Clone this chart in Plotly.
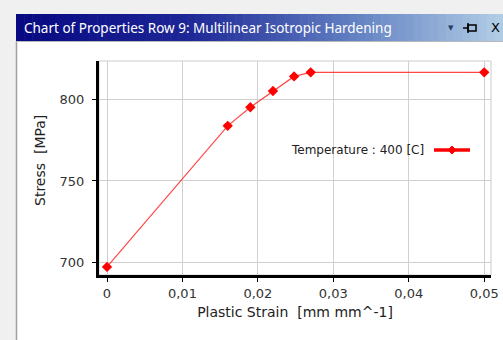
import plotly.graph_objects as go

# ---- data ----
strain = [0.0, 0.0160, 0.0190, 0.0220, 0.0248, 0.0270, 0.0500]
stress = [697.0, 784.0, 795.5, 805.5, 814.5, 817.0, 817.0]
series_name = "Temperature : 400 [C]"
x_ticks = [0.0, 0.01, 0.02, 0.03, 0.04, 0.05]
y_ticks = [700, 750, 800]
window_title = "Chart of Properties Row 9: Multilinear Isotropic Hardening"
x_title = "Plastic Strain\u00a0\u00a0[mm mm^-1]"
y_title = "Stress\u00a0\u00a0[MPa]"

W, H = 503, 340
PL, PR, PT, PB = 99, 491, 61, 275  # plot area pixel bounds


def px(x):
    return (x - PL) / (PR - PL)


def py(y):
    return (PB - y) / (PB - PT)


shapes = []
# light gray window frame
shapes.append(dict(type="rect", xref="paper", yref="paper", x0=px(0), x1=px(16), y0=py(H), y1=py(0),
                   fillcolor="#f0f0f0", line_width=0, layer="below"))
shapes.append(dict(type="rect", xref="paper", yref="paper", x0=px(0), x1=px(W), y0=py(14), y1=py(0),
                   fillcolor="#f0f0f0", line_width=0, layer="below"))
shapes.append(dict(type="line", xref="paper", yref="paper", x0=px(16.5), x1=px(16.5), y0=py(41), y1=py(H),
                   line=dict(color="#a0a0a0", width=1.5)))
shapes.append(dict(type="line", xref="paper", yref="paper", x0=px(16), x1=px(W), y0=py(41.5), y1=py(41.5),
                   line=dict(color="#b8b8b8", width=1)))

# gradient title bar
stops = [(0.0, (8, 8, 130)), (0.35, (28, 38, 150)), (0.7, (100, 130, 195)), (1.0, (178, 206, 230))]


def grad(t):
    for (t0, c0), (t1, c1) in zip(stops[:-1], stops[1:]):
        if t <= t1:
            f = (t - t0) / (t1 - t0)
            return tuple(int(round(a + (b - a) * f)) for a, b in zip(c0, c1))
    return stops[-1][1]


n = 60
x_start, x_end = 16, W
for i in range(n):
    a = x_start + (x_end - x_start) * i / n
    b = x_start + (x_end - x_start) * (i + 1) / n + 0.6
    c = grad((i + 0.5) / n)
    shapes.append(dict(type="rect", xref="paper", yref="paper", x0=px(a), x1=px(b), y0=py(41), y1=py(14),
                       fillcolor="rgb(%d,%d,%d)" % c, line_width=0, layer="below"))

# pin icon in title bar
shapes.append(dict(type="line", xref="paper", yref="paper", x0=px(463), x1=px(468), y0=py(28), y1=py(28),
                   line=dict(color="black", width=1.5)))
shapes.append(dict(type="rect", xref="paper", yref="paper", x0=px(468), x1=px(476), y0=py(31), y1=py(25),
                   line=dict(color="black", width=1.5), fillcolor="rgba(0,0,0,0)"))
shapes.append(dict(type="line", xref="paper", yref="paper", x0=px(468), x1=px(468), y0=py(33), y1=py(23),
                   line=dict(color="black", width=1.5)))

# plot frame (top/right gray)
shapes.append(dict(type="rect", xref="paper", yref="paper", x0=0, x1=1, y0=0, y1=1,
                   line=dict(color="#cccccc", width=1), layer="below"))

# legend symbol (line + diamond) to the right of the legend text
ly = 150
shapes.append(dict(type="line", xref="paper", yref="paper", x0=px(434), x1=px(470), y0=py(ly), y1=py(ly),
                   line=dict(color="#ff0000", width=3.5)))
d = 4
shapes.append(dict(type="path", xref="paper", yref="paper",
                   path="M %f %f L %f %f L %f %f L %f %f Z" % (
                       px(452), py(ly - d), px(452 + d), py(ly), px(452), py(ly + d), px(452 - d), py(ly)),
                   fillcolor="#ff0000", line=dict(color="#ff0000", width=1)))

annotations = [
    dict(text=window_title, xref="paper", yref="paper", x=px(22), y=py(27.5), xanchor="left", yanchor="middle",
         showarrow=False, font=dict(family="Noto Sans", size=13.5, color="white")),
    dict(text="▼", xref="paper", yref="paper", x=px(451), y=py(28), xanchor="center", yanchor="middle",
         showarrow=False, font=dict(family="DejaVu Sans", size=7, color="#2a3a6a")),
    dict(text="X", xref="paper", yref="paper", x=px(502), y=py(28), xanchor="right", yanchor="middle",
         showarrow=False, font=dict(family="DejaVu Sans", size=13, color="black")),
    dict(text=series_name, xref="paper", yref="paper", x=px(426), y=py(ly), xanchor="right", yanchor="middle",
         showarrow=False, font=dict(family="DejaVu Sans", size=12, color="#222222")),
    dict(text=y_title, xref="paper", yref="paper", x=px(40), y=py(161), xanchor="center", yanchor="middle",
         textangle=-90, showarrow=False, font=dict(family="DejaVu Sans", size=14, color="#222222")),
]

fig = go.Figure()
fig.add_trace(go.Scatter(
    x=strain, y=stress, mode="lines+markers", name=series_name, showlegend=False,
    line=dict(color="rgba(255,40,40,0.85)", width=1.2),
    marker=dict(symbol="diamond", size=8, color="#ff0000"),
))

axis_font = dict(family="DejaVu Sans", size=13, color="#333333")
title_font = dict(family="DejaVu Sans", size=14, color="#222222")

fig.update_layout(
    width=W, height=H, autosize=False,
    margin=dict(l=PL, r=W - PR, t=PT, b=H - PB, pad=0, autoexpand=False),
    paper_bgcolor="white", plot_bgcolor="white",
    separators=", ",
    showlegend=False,
    shapes=shapes, annotations=annotations,
    xaxis=dict(
        range=[-0.00106, 0.0509], tickvals=x_ticks, automargin=False,
        showgrid=True, gridcolor="#d0d0d0", gridwidth=1, zeroline=False,
        showline=True, linecolor="black", linewidth=3,
        ticks="outside", ticklen=4, tickcolor="black", tickwidth=1,
        tickfont=axis_font,
        title=dict(text=x_title, font=title_font, standoff=8),
    ),
    yaxis=dict(
        range=[692, 824], tickvals=y_ticks, automargin=False,
        showgrid=True, gridcolor="#d0d0d0", gridwidth=1, zeroline=False,
        showline=True, linecolor="black", linewidth=3,
        ticks="outside", ticklen=4, tickcolor="black", tickwidth=1,
        ticklabelstandoff=5,
        tickfont=axis_font,
    ),
)

fig.write_html("out.html")
